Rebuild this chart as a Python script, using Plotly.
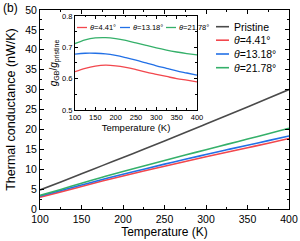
import plotly.graph_objects as go

temps = [100, 125, 150, 175, 200, 225, 250, 275, 300, 325, 350, 375, 400]
pristine = [4.8, 6.8, 8.85, 10.9, 12.95, 15.0, 17.1, 19.2, 21.35, 23.5, 25.65, 27.8, 30.0]
g_441 = [2.99, 4.30, 5.66, 7.01, 8.30, 9.54, 10.76, 11.92, 13.11, 14.26, 15.39, 16.54, 17.7]
g_1318 = [3.25, 4.63, 6.03, 7.40, 8.73, 10.0, 11.27, 12.48, 13.69, 14.88, 16.03, 17.18, 18.33]
g_2178 = [3.42, 4.92, 6.46, 7.97, 9.43, 10.83, 12.21, 13.56, 14.90, 16.24, 17.57, 18.90, 20.28]

r_441 = [0.622, 0.633, 0.640, 0.643, 0.641, 0.636, 0.629, 0.621, 0.614, 0.607, 0.600, 0.595, 0.590]
r_1318 = [0.678, 0.681, 0.681, 0.679, 0.674, 0.667, 0.659, 0.650, 0.641, 0.633, 0.625, 0.618, 0.611]
r_2178 = [0.712, 0.724, 0.730, 0.731, 0.728, 0.722, 0.714, 0.706, 0.698, 0.691, 0.685, 0.680, 0.676]

names = ["Pristine", "<i>θ</i>=4.41°", "<i>θ</i>=13.18°", "<i>θ</i>=21.78°"]
colors = ["#4a4a4a", "#f2474d", "#2270e6", "#35b06a"]
main_series = [pristine, g_441, g_1318, g_2178]
inset_series = [r_441, r_1318, r_2178]

x_ticks = [100, 150, 200, 250, 300, 350, 400]
y_ticks = [0, 5, 10, 15, 20, 25, 30, 35, 40, 45, 50]
inset_y_ticks = [0.5, 0.6, 0.7, 0.8]

FONT = "Liberation Sans, Arial, sans-serif"

fig = go.Figure()
for vals, nm, c in zip(main_series, names, colors):
    fig.add_trace(go.Scatter(x=temps, y=vals, mode="lines", name=nm,
                             line=dict(color=c, width=1.6, shape="spline"),
                             xaxis="x", yaxis="y", showlegend=False))
for vals, nm, c in zip(inset_series, names[1:], colors[1:]):
    fig.add_trace(go.Scatter(x=temps, y=vals, mode="lines", name=nm,
                             line=dict(color=c, width=1.3, shape="spline"),
                             xaxis="x2", yaxis="y2", showlegend=False))

axis_common = dict(showline=True, linecolor="black", linewidth=1, mirror="allticks",
                   ticks="inside", tickcolor="black", showgrid=False, zeroline=False,
                   automargin=False, ticklabeloverflow="allow")

fig.update_layout(
    width=300, height=241,
    margin=dict(l=40, r=11, t=10, b=32, autoexpand=False),
    paper_bgcolor="white", plot_bgcolor="white",
    font=dict(family=FONT, color="black"),
    xaxis=dict(domain=[0, 1], range=[100, 400], tickvals=x_ticks, ticklen=4,
               tickfont=dict(size=10.5),
               title=dict(text="Temperature (K)", font=dict(size=12), standoff=4),
               minor=dict(ticks="inside", ticklen=2, dtick=25, tickcolor="black"),
               **axis_common),
    yaxis=dict(domain=[0, 1], range=[0, 50], tickvals=y_ticks, ticklen=4,
               tickfont=dict(size=10.5),
               title=dict(text="Thermal conductance (nW/K)", font=dict(size=12.5), standoff=6),
               minor=dict(ticks="inside", ticklen=2, dtick=2.5, tickcolor="black"),
               **axis_common),
    xaxis2=dict(domain=[0.1406, 0.6305], anchor="y2", range=[100, 400], tickvals=x_ticks,
                ticklen=3, tickfont=dict(size=7.5),
                title=dict(text="Temperature (K)", font=dict(size=9.5), standoff=0),
                minor=dict(ticks="inside", ticklen=1.5, dtick=25, tickcolor="black"),
                **axis_common),
    yaxis2=dict(domain=[0.4975, 0.970], anchor="x2", range=[0.5, 0.8], tickvals=inset_y_ticks,
                ticklen=3, tickfont=dict(size=7.5),
                title=dict(text="<i>g</i><sub>GB</sub>/<i>g</i><sub>pristine</sub>",
                           font=dict(size=10), standoff=2),
                minor=dict(ticks="inside", ticklen=1.5, dtick=0.05, tickcolor="black"),
                **axis_common),
)

# (b) panel label
fig.add_annotation(text="(b)", xref="paper", yref="paper", x=-0.155, y=1.01,
                   xanchor="left", yanchor="middle", showarrow=False,
                   font=dict(size=12, family=FONT))

# main legend (manual)
def px_x(px):
    return (px - 40) / 249.0

def px_y(py):
    return (209 - py) / 199.0

leg_rows = [26.7, 40.2, 54.0, 67.7]
for nm, c, py in zip(names, colors, leg_rows):
    fig.add_shape(type="line", xref="paper", yref="paper",
                  x0=px_x(216), x1=px_x(229), y0=px_y(py), y1=px_y(py),
                  line=dict(color=c, width=1.6))
    fig.add_annotation(text=nm, xref="paper", yref="paper", x=px_x(232), y=px_y(py),
                       xanchor="left", yanchor="middle", showarrow=False,
                       font=dict(size=10.5, family=FONT))

# inset legend (manual)
inset_leg = [(77, 88), (120, 131), (166, 177)]
for nm, c, (lx, tx) in zip(names[1:], colors[1:], inset_leg):
    fig.add_shape(type="line", xref="paper", yref="paper",
                  x0=px_x(lx), x1=px_x(lx + 10), y0=px_y(27.5), y1=px_y(27.5),
                  line=dict(color=c, width=1.3))
    fig.add_annotation(text=nm, xref="paper", yref="paper", x=px_x(tx), y=px_y(27.5),
                       xanchor="left", yanchor="middle", showarrow=False,
                       font=dict(size=7.5, family=FONT))

fig.write_html("out.html", config={"displayModeBar": False},
               post_script="document.body.style.margin='0';document.body.style.overflow='hidden';")
